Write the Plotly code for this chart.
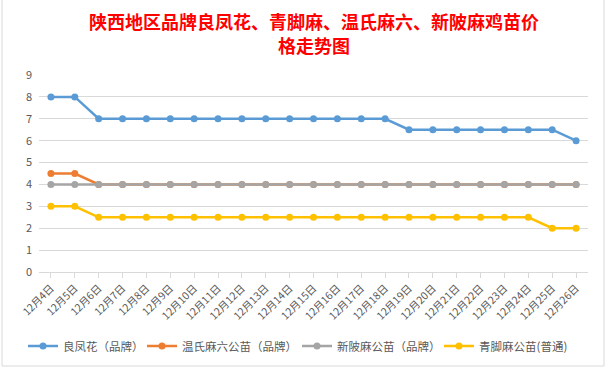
import plotly.graph_objects as go

dates = ["12月4日","12月5日","12月6日","12月7日","12月8日","12月9日","12月10日","12月11日","12月12日",
         "12月13日","12月14日","12月15日","12月16日","12月17日","12月18日","12月19日","12月20日",
         "12月21日","12月22日","12月23日","12月24日","12月25日","12月26日"]
liangfenghua = [8,8,7,7,7,7,7,7,7,7,7,7,7,7,7,6.5,6.5,6.5,6.5,6.5,6.5,6.5,6]
wenshi = [4.5,4.5,4,4,4,4,4,4,4,4,4,4,4,4,4,4,4,4,4,4,4,4,4]
xinling = [4]*23
qingjiao = [3,3,2.5,2.5,2.5,2.5,2.5,2.5,2.5,2.5,2.5,2.5,2.5,2.5,2.5,2.5,2.5,2.5,2.5,2.5,2.5,2,2]

names = ["良凤花（品牌）","温氏麻六公苗（品牌）","新陂麻公苗（品牌）","青脚麻公苗(普通)"]
series = [liangfenghua, wenshi, xinling, qingjiao]
colors = ["#5b9bd5","#ed7d31","#a5a5a5","#ffc000"]
title_lines = ["陕西地区品牌良凤花、青脚麻、温氏麻六、新陂麻鸡苗价", "格走势图"]

W, H = 606, 369
ML, MR, MT, MB = 39, 18, 75, 97
pw = W - ML - MR
ph = H - MT - MB

def py(pix):
    return (H - MB - pix) / ph

def px(pix):
    return (pix - ML) / pw

legend_ids = ["legend", "legend2", "legend3", "legend4"]
legend_starts = [32, 151, 306, 448]

fig = go.Figure()
for n, s, c, lid in zip(names, series, colors, legend_ids):
    fig.add_trace(go.Scatter(x=dates, y=s, name=n, mode="lines+markers", legend=lid,
                             line=dict(color=c, width=2.5),
                             marker=dict(color=c, size=7)))

layout_legends = {}
for lid, st in zip(legend_ids, legend_starts):
    layout_legends[lid] = dict(orientation="h", x=px(st - 9), xanchor="left",
                               y=py(346), yanchor="middle",
                               font=dict(size=11.5, color="#595959"), itemwidth=30,
                               bgcolor="rgba(0,0,0,0)", borderwidth=0)

fig.update_layout(
    width=W, height=H,
    paper_bgcolor="white", plot_bgcolor="white",
    margin=dict(l=ML, r=MR, t=MT, b=MB, autoexpand=False),
    font=dict(family="Noto Sans CJK SC", color="#595959", size=10),
    showlegend=True,
    **layout_legends,
)
for i, t in enumerate(title_lines):
    fig.add_annotation(text=t, xref="paper", yref="paper", x=0.5, xanchor="center",
                       y=py(21 + i * 24), yanchor="middle", showarrow=False,
                       font=dict(family="Noto Sans CJK SC", size=18, color="#ff0000", weight="bold"))
fig.update_xaxes(type="category", range=[-0.5, len(dates) - 0.5], tickangle=-45, showgrid=False,
                 automargin=False, showline=True, linecolor="#d9d9d9", ticks="outside",
                 tickcolor="#d9d9d9", ticklen=5, tickfont=dict(size=10.5, color="#595959"))
fig.update_yaxes(range=[0, 9], dtick=1, showgrid=True, gridcolor="#d9d9d9", zeroline=False,
                 showline=False, automargin=False, tickfont=dict(size=11, color="#595959"),
                 ticklabelstandoff=6)
fig.add_shape(type="rect", xref="paper", yref="paper",
              x0=px(2), x1=px(604), y0=py(366), y1=py(-2), line=dict(color="#d9d9d9", width=1))
fig.write_html("out.html", config={"displayModeBar": False},
               post_script="document.body.style.margin='0';document.body.style.overflow='hidden';")
